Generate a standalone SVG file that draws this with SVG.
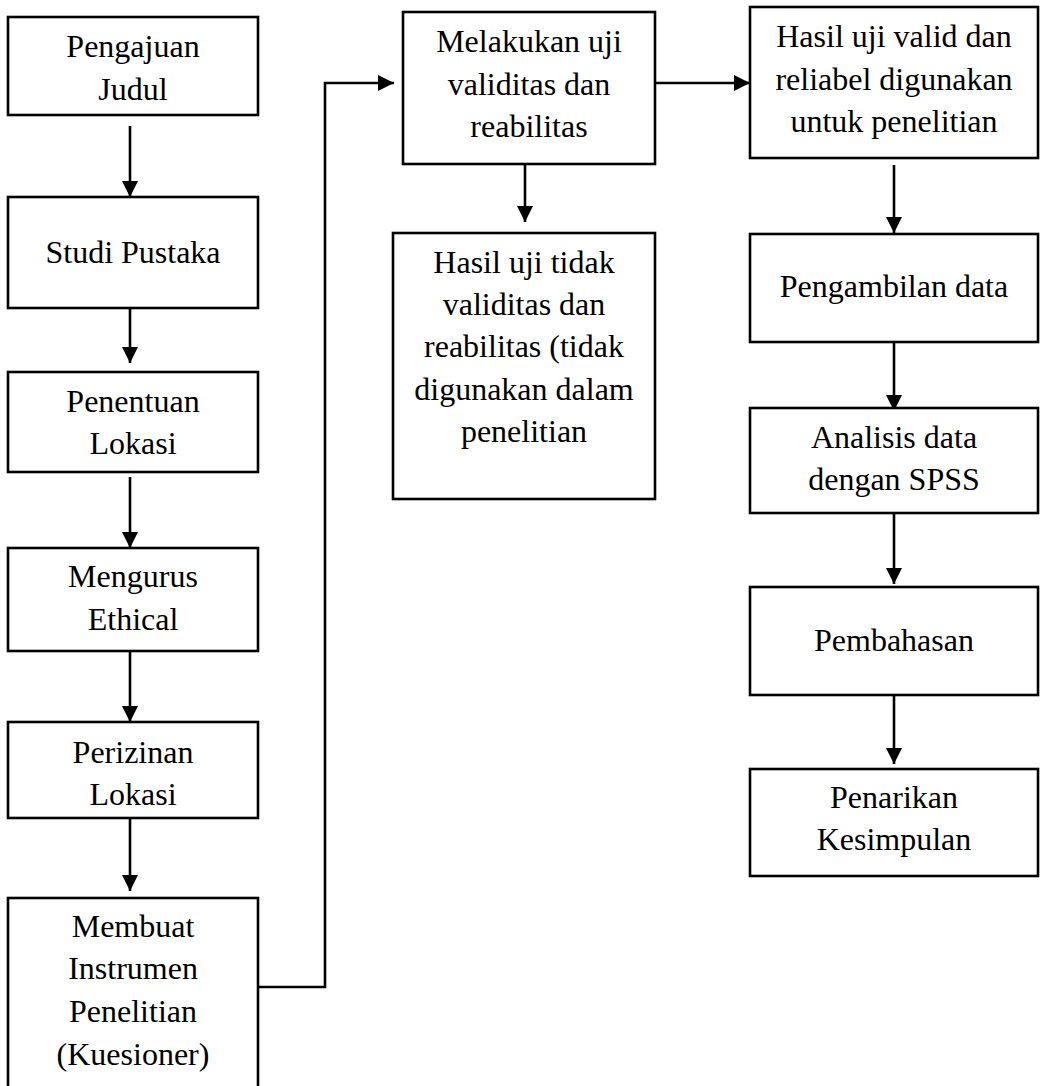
<svg xmlns="http://www.w3.org/2000/svg" width="1042" height="1086" viewBox="0 0 1042 1086">
<style>
.box{fill:#fff;stroke:#000;stroke-width:2.6}
.t{font-family:"Liberation Serif","Times New Roman",serif;font-size:32px;fill:#000;text-anchor:middle}
.c{fill:none;stroke:#000;stroke-width:2.6}
</style>
<defs>
<marker id="ah" markerWidth="16" markerHeight="16" viewBox="0 0 16 16" refX="16" refY="8" orient="auto" markerUnits="userSpaceOnUse">
<path d="M0,0 L16,8 L0,16 Z" fill="#000"/>
</marker>
</defs>
<rect width="1042" height="1086" fill="#fff"/>
<g id="connectors">
<line class="c" x1="130" y1="126" x2="130" y2="197" marker-end="url(#ah)"/>
<line class="c" x1="130" y1="308" x2="130" y2="363" marker-end="url(#ah)"/>
<line class="c" x1="130" y1="477" x2="130" y2="548" marker-end="url(#ah)"/>
<line class="c" x1="130" y1="651" x2="130" y2="722" marker-end="url(#ah)"/>
<line class="c" x1="130" y1="818" x2="130" y2="891" marker-end="url(#ah)"/>
<polyline class="c" points="258,987 325,987 325,83 394,83" marker-end="url(#ah)"/>
<line class="c" x1="655" y1="83" x2="750" y2="83" marker-end="url(#ah)"/>
<line class="c" x1="525" y1="164" x2="525" y2="222" marker-end="url(#ah)"/>
<line class="c" x1="894" y1="165" x2="894" y2="233" marker-end="url(#ah)"/>
<line class="c" x1="894" y1="342" x2="894" y2="411" marker-end="url(#ah)"/>
<line class="c" x1="894" y1="513" x2="894" y2="584" marker-end="url(#ah)"/>
<line class="c" x1="894" y1="695" x2="894" y2="764" marker-end="url(#ah)"/>
</g>
<g id="n1"><rect class="box" x="8" y="17" width="250" height="98"/><text class="t" x="133" y="57">Pengajuan</text><text class="t" x="133" y="100">Judul</text></g>
<g id="n2"><rect class="box" x="8" y="197" width="250" height="111"/><text class="t" x="133" y="263">Studi Pustaka</text></g>
<g id="n3"><rect class="box" x="8" y="372" width="250" height="100"/><text class="t" x="133" y="412">Penentuan</text><text class="t" x="133" y="454">Lokasi</text></g>
<g id="n4"><rect class="box" x="8" y="548" width="250" height="103"/><text class="t" x="133" y="587">Mengurus</text><text class="t" x="133" y="630">Ethical</text></g>
<g id="n5"><rect class="box" x="8" y="722" width="250" height="96"/><text class="t" x="133" y="763">Perizinan</text><text class="t" x="133" y="805">Lokasi</text></g>
<g id="n6"><rect class="box" x="8" y="898" width="250" height="200"/><text class="t" x="133" y="937">Membuat</text><text class="t" x="133" y="979">Instrumen</text><text class="t" x="133" y="1022">Penelitian</text><text class="t" x="133" y="1065">(Kuesioner)</text></g>
<g id="n7"><rect class="box" x="403" y="12" width="252" height="152"/><text class="t" x="529" y="52">Melakukan uji</text><text class="t" x="529" y="95">validitas dan</text><text class="t" x="529" y="137">reabilitas</text></g>
<g id="n8"><rect class="box" x="393" y="233" width="262" height="266"/><text class="t" x="524" y="273">Hasil uji tidak</text><text class="t" x="524" y="315">validitas dan</text><text class="t" x="524" y="357">reabilitas (tidak</text><text class="t" x="524" y="400">digunakan dalam</text><text class="t" x="524" y="442">penelitian</text></g>
<g id="n9"><rect class="box" x="750" y="7" width="288" height="151"/><text class="t" x="894" y="47">Hasil uji valid dan</text><text class="t" x="894" y="90">reliabel digunakan</text><text class="t" x="894" y="132">untuk penelitian</text></g>
<g id="n10"><rect class="box" x="750" y="234" width="288" height="108"/><text class="t" x="894" y="297">Pengambilan data</text></g>
<g id="n11"><rect class="box" x="750" y="408" width="288" height="105"/><text class="t" x="894" y="448">Analisis data</text><text class="t" x="894" y="490">dengan SPSS</text></g>
<g id="n12"><rect class="box" x="750" y="587" width="288" height="108"/><text class="t" x="894" y="651">Pembahasan</text></g>
<g id="n13"><rect class="box" x="750" y="769" width="288" height="107"/><text class="t" x="894" y="808">Penarikan</text><text class="t" x="894" y="850">Kesimpulan</text></g>
</svg>
